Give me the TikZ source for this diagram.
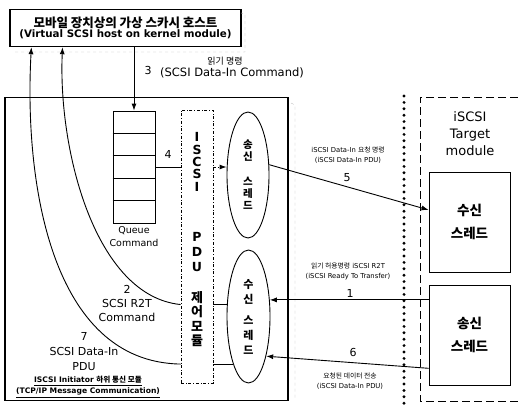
\documentclass[tikz,border=0pt]{standalone}
\usepackage{fontspec}
\setmainfont{DejaVu Sans}
\newfontfamily\krfont{Noto Sans CJK KR}
\usetikzlibrary{arrows.meta,shapes.geometric,calc}
\begin{document}
\begin{tikzpicture}[x=1pt,y=-1pt,
 arr/.style={-{Latex[length=7pt,width=5pt]}, line width=0.9pt},
 conn/.style={line width=0.9pt},
 lbl/.style={font=\fontsize{11}{13.5}\selectfont, align=center, inner sep=0},
 small/.style={font=\fontsize{6.8}{10}\selectfont, align=center, inner sep=0},
 ghost/.style={gray!55, dashed, line width=0.4pt},
 thread/.style={draw, ellipse, line width=0.9pt, inner sep=0, align=center},
 tbox/.style={draw, line width=0.9pt, minimum width=81, minimum height=100, inner sep=0, align=center,
   font=\krfont\fontsize{13.5}{23}\selectfont\bfseries},
]
\useasboundingbox (0,0) rectangle (518,407);

% host box
\node[draw, line width=1.4pt, minimum width=231, minimum height=37, inner sep=0, align=center] (host) at (125.5,28)
 {\krfont\fontsize{12.5}{16}\selectfont\bfseries 모바일 장치상의 가상 스카시 호스트\\[-1.5pt]
  \fontsize{10.3}{13}\selectfont\bfseries (Virtual SCSI host on kernel module)};
\draw[ghost] (15,52) -- (245,52) -- (245,14) -- (241,13);

% initiator big box
\node[draw, line width=1.1pt, minimum width=283, minimum height=303, inner sep=0] (init) at (146.5,249) {};
\draw[ghost] (291,103) -- (295,105) -- (295,400);

% queue
\node[draw, line width=0.9pt, minimum width=42, minimum height=112, inner sep=0] (queue) at (134,167) {};
\foreach \k in {1,...,4}
  \draw[line width=0.9pt] ($(queue.north west)!\k/5!(queue.south west)$) -- ($(queue.north east)!\k/5!(queue.south east)$);
\node[lbl, font=\fontsize{9.5}{12.5}\selectfont, anchor=north] (qlbl) at ($(queue.south)+(0,3)$) {Queue\\Command};

% arrow 3
\draw[arr] (queue.north |- host.south) -- (queue.north);
\node[lbl] (n3) at (148,70) {3};
\node[lbl, font=\krfont\fontsize{9}{10}\selectfont] (l3a) at (225,61) {읽기 명령};
\node[lbl, font=\fontsize{11.5}{13}\selectfont] (l3b) at (232,73) {(SCSI Data-In Command)};

% PDU control module
\node[draw, dash dot, line width=0.8pt, minimum width=32, minimum height=273, inner sep=0] (pdu) at (197,246.5) {};
\node[align=center, inner sep=0, font=\fontsize{12.5}{12.3}\selectfont\bfseries] (pt1) at (197,162) {I\\S\\C\\S\\I};
\node[align=center, inner sep=0, font=\fontsize{12.5}{15}\selectfont\bfseries] (pt2) at (197,252) {P\\D\\U};
\node[align=center, inner sep=0, font=\krfont\fontsize{13}{14.5}\selectfont\bfseries] (pt3) at (197,319) {제\\어\\모\\듈};

% threads
\node[thread, minimum width=42, minimum height=126, font=\krfont\fontsize{10.5}{12}\selectfont\bfseries] (send) at (248,175) {송\\신\\[13pt]스\\레\\드};
\node[thread, minimum width=43, minimum height=133, font=\krfont\fontsize{11}{15}\selectfont\bfseries] (recv) at (248.5,316.5) {수\\신\\[6pt]스\\레\\드};

% connector 4
\draw[conn] (queue.east) -- (queue.east -| pdu.west);
\node[lbl] (n4) at (168,154) {4};
\draw[arr, dash dot] (queue.east -| pdu.east) -- (send.west |- queue.east);

% pdu to recv thread
\draw[conn] (recv.151 -| pdu.east) -- (recv.151);
\draw[conn] (recv.252 -| pdu.east) -- (recv.252);

% curves 2 and 7
\coordinate (h2) at ($(host.south west)!0.229!(host.south east)$);
\coordinate (h7) at ($(host.south west)!0.095!(host.south east)$);
\draw[arr] (pdu.west |- recv.151) .. controls (95,296) and (58,150) .. (h2);
\draw[arr] (pdu.west |- recv.252) .. controls (50,362) and (24,180) .. (h7);
\node[lbl, font=\fontsize{11}{14}\selectfont] (l2) at (127,303) {2\\SCSI R2T\\Command};
\node[lbl, font=\fontsize{11}{15}\selectfont] (l7) at (84,352) {7\\SCSI Data-In\\PDU};
\node[align=center, inner sep=0, font=\fontsize{7.6}{11}\selectfont\bfseries] (lsub) at (88,387)
 {\underline{ISCSI Initiator {\krfont 하위 통신 모듈}}\\\underline{(TCP/IP Message Communication)}};

% separator and target module
\draw[line width=3.2pt, line cap=round, dash pattern=on 0pt off 6.4pt] (404,96) -- (404,407);
\draw[dashed, line width=1pt, dash pattern=on 8pt off 4pt] (518,97) -- (420,97) -- (420,401) -- (518,401);
\node[align=center, inner sep=0, font=\fontsize{13}{17}\selectfont] (tgt) at (470,134) {iSCSI\\Target\\module};
\node[tbox] (trecv) at (469.5,222) {수신\\스레드};
\node[tbox] (tsend) at (469.5,335) {송신\\스레드};

% arrow 5
\draw[arr] (send.26) -- ($(trecv.north west)!0.38!(trecv.south west)$);
\node[small] (l5) at (348,155) {iSCSI Data-In {\krfont 요청 명령}\\(iSCSI Data-In PDU)};
\node[lbl] (n5) at (347,178) {5};

% arrow 1
\draw[arr] (tsend.west |- recv.38) -- (recv.38);
\node[small] (l1) at (348,271) {{\krfont 읽기 허용명령} iSCSI R2T\\(iSCSI Ready To Transfer)};
\node[lbl] (n1) at (350,293) {1};

% arrow 6
\draw[arr] ($(tsend.south west)!0.17!(tsend.north west)$) -- (recv.294);
\node[lbl] (n6) at (353,352) {6};
\node[small] (l6) at (350,381) {{\krfont 요청된 데이터 전송}\\(iSCSI Data-In PDU)};
\end{tikzpicture}
\end{document}
